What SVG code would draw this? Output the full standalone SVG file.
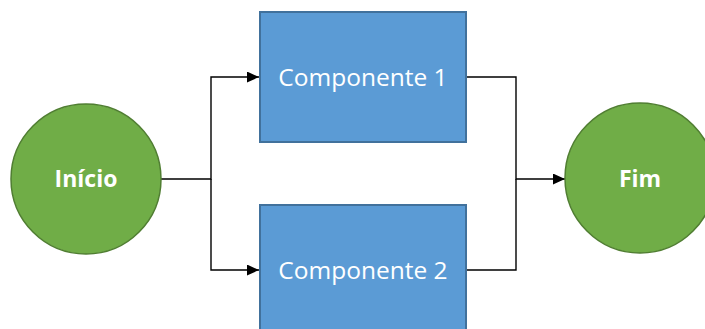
<svg xmlns="http://www.w3.org/2000/svg" width="705" height="329" viewBox="0 0 705 329">
  <style>
    .term { fill: #70AD47; stroke: #507E32; stroke-width: 1.5; }
    .comp { fill: #5B9BD5; stroke: #41719C; stroke-width: 2; }
    .lbl { fill: #FFFFFF; font-family: "Open Sans", "Liberation Sans", sans-serif; text-anchor: middle; }
    .bold { font-weight: bold; font-size: 23px; }
    .reg { font-size: 24.5px; }
    .wire { fill: none; stroke: #000000; stroke-width: 1.4; }
  </style>
  <defs>
    <marker id="arrow" viewBox="0 0 12 11" refX="12" refY="5.5" markerWidth="12" markerHeight="11" markerUnits="userSpaceOnUse" orient="auto">
      <path d="M0,0 L12,5.5 L0,11 z" fill="#000000"/>
    </marker>
  </defs>
  <rect width="705" height="329" fill="#FFFFFF"/>

  <g id="connectors">
    <path class="wire" d="M161,179 H211 V77 H259" marker-end="url(#arrow)"/>
    <path class="wire" d="M211,179 V270 H259" marker-end="url(#arrow)"/>
    <path class="wire" d="M466,77 H516 V179 H565" marker-end="url(#arrow)"/>
    <path class="wire" d="M466,270 H516 V179"/>
  </g>

  <g id="inicio">
    <circle class="term" cx="86" cy="179" r="75"/>
    <text class="lbl bold" x="86" y="187">Início</text>
  </g>

  <g id="componente1">
    <rect class="comp" x="260" y="12" width="206" height="130"/>
    <text class="lbl reg" x="363" y="86">Componente 1</text>
  </g>

  <g id="componente2">
    <rect class="comp" x="260" y="205" width="206" height="130"/>
    <text class="lbl reg" x="363" y="279">Componente 2</text>
  </g>

  <g id="fim">
    <circle class="term" cx="640" cy="178" r="75"/>
    <text class="lbl bold" x="640" y="187">Fim</text>
  </g>
</svg>
